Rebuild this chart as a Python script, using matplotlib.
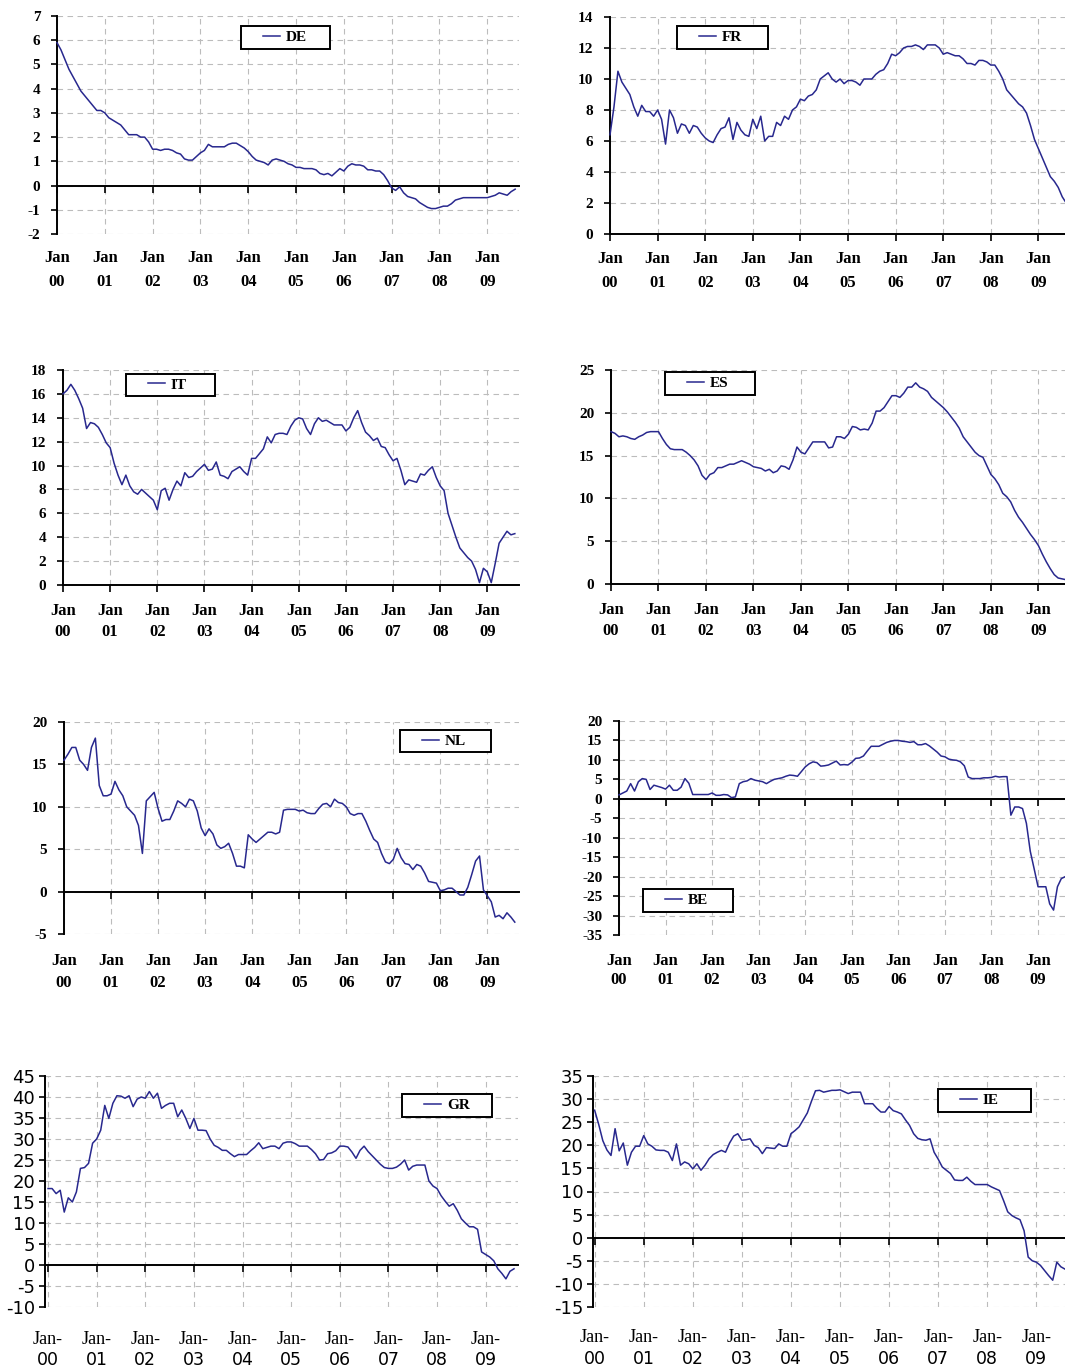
import matplotlib
matplotlib.use("Agg")
import matplotlib.pyplot as plt
from matplotlib.lines import Line2D
from matplotlib.legend_handler import HandlerLine2D
from matplotlib.font_manager import FontProperties

# ---------------------------------------------------------------- data
year_labels = ["00", "01", "02", "03", "04", "05", "06", "07", "08", "09"]
jan_months = [0, 12, 24, 36, 48, 60, 72, 84, 96, 108]

de = [5.9, 5.6, 5.2, 4.8, 4.5, 4.2, 3.9, 3.7, 3.5, 3.3, 3.1, 3.1,
      3.0, 2.8, 2.7, 2.6, 2.5, 2.3, 2.1, 2.1, 2.1, 2.0, 2.0, 1.8,
      1.5, 1.5, 1.45, 1.5, 1.5, 1.45, 1.35, 1.3, 1.1, 1.05, 1.05, 1.2,
      1.35, 1.45, 1.7, 1.6, 1.6, 1.6, 1.6, 1.7, 1.75, 1.75, 1.65, 1.55,
      1.4, 1.2, 1.05, 1.0, 0.95, 0.85, 1.05, 1.1, 1.05, 1.0, 0.9, 0.85,
      0.75, 0.75, 0.7, 0.7, 0.7, 0.65, 0.5, 0.45, 0.5, 0.4, 0.55, 0.7,
      0.6, 0.8, 0.9, 0.85, 0.85, 0.8, 0.65, 0.65, 0.6, 0.6, 0.45, 0.2,
      -0.1, -0.2, -0.05, -0.3, -0.45, -0.5, -0.55, -0.7, -0.8, -0.9, -0.95, -0.95,
      -0.9, -0.85, -0.85, -0.75, -0.6, -0.55, -0.5, -0.5, -0.5, -0.5, -0.5, -0.5,
      -0.5, -0.45, -0.4, -0.3, -0.35, -0.4, -0.25, -0.15]

fr = [6.4, 8.2, 10.5, 9.8, 9.4, 9.0, 8.2, 7.6, 8.3, 7.9, 7.9, 7.6,
      8.0, 7.4, 5.8, 8.0, 7.5, 6.5, 7.1, 7.0, 6.5, 7.0, 6.9, 6.5,
      6.2, 6.0, 5.9, 6.4, 6.8, 6.9, 7.5, 6.1, 7.2, 6.7, 6.4, 6.3,
      7.4, 6.8, 7.6, 6.0, 6.3, 6.3, 7.2, 7.0, 7.6, 7.4, 8.0, 8.2,
      8.7, 8.6, 8.9, 9.0, 9.3, 10.0, 10.2, 10.4, 10.0, 9.8, 10.0, 9.7,
      9.9, 9.9, 9.8, 9.6, 10.0, 10.0, 10.0, 10.3, 10.5, 10.6, 11.0, 11.6,
      11.5, 11.7, 12.0, 12.1, 12.1, 12.2, 12.1, 11.9, 12.2, 12.2, 12.2, 12.0,
      11.6, 11.7, 11.6, 11.5, 11.5, 11.3, 11.0, 11.0, 10.9, 11.2, 11.2, 11.1,
      10.9, 10.9, 10.5, 10.0, 9.3, 9.0, 8.7, 8.4, 8.2, 7.8, 7.0, 6.1,
      5.5, 4.9, 4.3, 3.7, 3.4, 3.0, 2.4, 2.0]

it = [16.0, 16.3, 16.8, 16.3, 15.6, 14.8, 13.1, 13.6, 13.5, 13.2, 12.6, 11.9,
      11.5, 10.2, 9.2, 8.4, 9.2, 8.3, 7.8, 7.6, 8.0, 7.7, 7.4, 7.1,
      6.3, 7.9, 8.1, 7.1, 8.0, 8.7, 8.3, 9.4, 9.0, 9.1, 9.5, 9.8,
      10.1, 9.6, 9.7, 10.3, 9.2, 9.1, 8.9, 9.5, 9.7, 9.9, 9.5, 9.2,
      10.6, 10.6, 11.0, 11.4, 12.4, 11.9, 12.6, 12.7, 12.7, 12.6, 13.3, 13.8,
      14.0, 13.9, 13.1, 12.6, 13.5, 14.0, 13.7, 13.8, 13.6, 13.4, 13.4, 13.4,
      12.9, 13.2, 14.0, 14.6, 13.6, 12.8, 12.5, 12.1, 12.3, 11.6, 11.5, 10.9,
      10.4, 10.6, 9.6, 8.4, 8.8, 8.7, 8.6, 9.3, 9.2, 9.6, 9.9, 9.0,
      8.3, 7.9, 6.0, 5.0, 4.0, 3.1, 2.7, 2.3, 2.0, 1.3, 0.2, 1.4,
      1.1, 0.2, 1.8, 3.5, 4.0, 4.5, 4.2, 4.3]

es = [17.8, 17.6, 17.2, 17.3, 17.2, 17.0, 16.9, 17.2, 17.4, 17.7, 17.8, 17.8,
      17.8, 17.0, 16.3, 15.8, 15.7, 15.7, 15.7, 15.4, 15.0, 14.5, 13.8, 12.7,
      12.2, 12.8, 13.0, 13.6, 13.6, 13.8, 14.0, 14.0, 14.2, 14.4, 14.2, 14.0,
      13.7, 13.6, 13.5, 13.2, 13.4, 13.0, 13.2, 13.8, 13.7, 13.4, 14.5, 16.0,
      15.4, 15.2, 15.9, 16.6, 16.6, 16.6, 16.6, 15.9, 16.0, 17.2, 17.2, 17.0,
      17.5, 18.4, 18.3, 18.0, 18.1, 18.0, 18.8, 20.2, 20.2, 20.6, 21.3, 22.0,
      22.0, 21.8, 22.3, 23.0, 23.0, 23.5, 23.0, 22.8, 22.5, 21.8, 21.4, 21.0,
      20.6, 20.1, 19.5, 18.9, 18.2, 17.2, 16.6, 16.0, 15.4, 15.0, 14.8, 13.8,
      12.8, 12.3, 11.6, 10.6, 10.2, 9.6, 8.6, 7.8, 7.2, 6.5, 5.8, 5.2,
      4.5, 3.5, 2.6, 1.8, 1.1, 0.7, 0.6, 0.5]

nl = [15.5, 16.2, 17.0, 17.0, 15.5, 15.0, 14.3, 17.0, 18.1, 12.5, 11.3, 11.3,
      11.5, 13.0, 12.0, 11.3, 10.0, 9.5, 9.0, 7.8, 4.5, 10.7, 11.2, 11.7,
      9.8, 8.3, 8.5, 8.5, 9.5, 10.7, 10.4, 10.0, 10.9, 10.7, 9.5, 7.5,
      6.6, 7.4, 6.8, 5.5, 5.1, 5.3, 5.7, 4.5, 3.0, 3.0, 2.8, 6.7,
      6.2, 5.8, 6.2, 6.6, 7.0, 7.0, 6.8, 7.0, 9.6, 9.7, 9.7, 9.7,
      9.5, 9.6, 9.3, 9.2, 9.2, 9.8, 10.3, 10.4, 10.0, 10.9, 10.5, 10.4,
      10.0, 9.2, 9.0, 9.2, 9.2, 8.3, 7.2, 6.2, 5.8, 4.5, 3.5, 3.3,
      3.8, 5.1, 4.0, 3.3, 3.2, 2.6, 3.2, 3.0, 2.2, 1.2, 1.1, 1.0,
      0.1, 0.2, 0.4, 0.4, 0.0, -0.4, -0.4, 0.5, 2.0, 3.6, 4.2, 0.2,
      -0.5, -1.2, -3.0, -2.8, -3.2, -2.5, -3.0, -3.6]

be = [1.0, 1.5, 2.0, 3.9, 2.0, 4.4, 5.2, 5.0, 2.4, 3.5, 3.2, 2.9,
      2.5, 3.5, 2.2, 2.2, 3.0, 5.2, 4.0, 1.1, 1.1, 1.1, 1.1, 1.1,
      1.5, 0.9, 0.9, 1.1, 1.0, 0.3, 0.5, 3.9, 4.4, 4.6, 5.2, 4.8,
      4.6, 4.4, 3.9, 4.5, 5.0, 5.2, 5.4, 5.8, 6.1, 6.0, 5.8, 7.0,
      8.2, 9.0, 9.5, 9.3, 8.4, 8.5, 8.7, 9.2, 9.7, 8.7, 8.8, 8.7,
      9.4, 10.4, 10.5, 11.0, 12.3, 13.5, 13.5, 13.5, 14.0, 14.5, 14.8, 15.0,
      15.0, 14.8, 14.7, 14.5, 14.7, 13.9, 13.9, 14.2, 13.6, 12.8, 12.0, 11.0,
      10.8, 10.2, 10.0, 9.9, 9.5, 8.5, 5.6, 5.2, 5.2, 5.2, 5.4, 5.4,
      5.5, 5.8, 5.6, 5.7, 5.7, -4.2, -2.1, -2.1, -2.5, -6.3, -13.5, -18.0,
      -22.6, -22.6, -22.6, -27.0, -28.6, -22.6, -20.5, -20.0]

gr = [18.2, 18.2, 17.0, 17.8, 12.6, 16.0, 15.0, 17.4, 23.0, 23.2, 24.2, 29.0,
      30.0, 32.1, 38.0, 34.9, 38.5, 40.3, 40.2, 39.7, 40.3, 37.7, 39.5, 40.0,
      39.7, 41.3, 39.7, 40.9, 37.3, 38.0, 38.5, 38.5, 35.3, 36.9, 34.9, 32.5,
      34.9, 32.1, 32.1, 32.0, 30.0, 28.5, 28.0, 27.3, 27.3, 26.5, 25.8, 26.3,
      26.3, 26.3, 27.2, 28.0, 29.1, 27.7, 28.0, 28.3, 28.3, 27.7, 29.0, 29.3,
      29.3, 28.9, 28.3, 28.3, 28.3, 27.5, 26.5, 25.0, 25.1, 26.5, 26.7, 27.2,
      28.3, 28.3, 28.1, 26.9, 25.4, 27.3, 28.3, 27.0, 26.0, 25.0, 24.0, 23.2,
      23.0, 23.0, 23.3, 24.0, 25.0, 22.6, 23.5, 23.8, 23.8, 23.8, 20.0, 18.8,
      18.2, 16.5, 15.2, 14.0, 14.6, 13.0, 11.0, 10.0, 9.1, 9.1, 8.5, 3.1,
      2.5, 1.9, 1.0, -0.9, -2.0, -3.3, -1.5, -0.9]

ie = [27.6, 24.5, 21.0, 19.0, 17.8, 23.6, 18.8, 20.5, 15.7, 18.5, 19.8, 19.8,
      22.1, 20.3, 19.8, 19.0, 18.9, 18.9, 18.5, 16.7, 20.3, 15.7, 16.4, 16.0,
      14.9, 16.0, 14.6, 15.7, 17.1, 18.0, 18.5, 18.9, 18.5, 20.5, 22.0, 22.5,
      21.1, 21.2, 21.4, 20.0, 19.5, 18.2, 19.5, 19.4, 19.3, 20.3, 19.8, 19.8,
      22.5, 23.2, 24.0, 25.5, 27.0, 29.5, 31.8, 31.9, 31.5, 31.7, 31.9, 31.9,
      32.0, 31.6, 31.2, 31.5, 31.5, 31.5, 29.0, 29.0, 29.0, 28.0, 27.2, 27.2,
      28.4, 27.5, 27.2, 26.8, 25.5, 24.3, 22.5, 21.5, 21.2, 21.1, 21.4, 18.5,
      17.0, 15.3, 14.6, 13.9, 12.5, 12.4, 12.4, 13.1, 12.2, 11.5, 11.5, 11.5,
      11.5, 11.0, 10.6, 10.2, 8.0, 5.6, 4.8, 4.3, 3.9, 1.5, -4.2, -5.0,
      -5.3, -6.0, -7.1, -8.2, -9.2, -5.3, -6.3, -6.8]

# ---------------------------------------------------------------- layout
W, H = 1065, 1370
NAVY = "#28288e"
GRID = "#bcbcbc"

tick_serif = FontProperties(family="Liberation Serif", weight="bold", size=11)
xlab_serif = FontProperties(family="Liberation Serif", weight="bold", size=12)
legend_font = FontProperties(family="Liberation Serif", weight="bold", size=11)
tick_sans = FontProperties(family="DejaVu Sans", size=13)
xlab_jan_bottom = FontProperties(family="Liberation Serif", size=13)
xlab_yr_bottom = FontProperties(family="DejaVu Sans", size=12.5)

# name, values, y ticks, (left px, top px, bottom px, px per month, x start),
# legend box (x0, y0, x1, y1) px, bottom-row style flag, label offsets px
panels = [
    ("DE", de, list(range(-2, 8, 1)), (57, 16, 234, 3.984, 0.0), (241, 24, 330, 51), False, (24, 48)),
    ("FR", fr, list(range(0, 15, 2)), (610, 17, 234, 3.967, 0.0), (677, 24, 768, 51), False, (25, 49)),
    ("IT", it, list(range(0, 19, 2)), (63, 370, 585, 3.929, 0.0), (126, 372, 215, 398), False, (26, 47)),
    ("ES", es, list(range(0, 26, 5)), (611, 370, 584, 3.957, 0.0), (665, 370, 755, 397), False, (26, 47)),
    ("NL", nl, list(range(-5, 21, 5)), (64, 722, 934, 3.92, 0.0), (400, 728, 491, 754), False, (27, 49)),
    ("BE", be, list(range(-35, 21, 5)), (619, 721, 935, 3.88, 0.0), (643, 887, 733, 914), False, (26, 45)),
    ("GR", gr, list(range(-10, 46, 5)), (45, 1076, 1307, 4.052, -0.75), (402, 1092, 492, 1119), True, (32, 53)),
    ("IE", ie, list(range(-15, 36, 5)), (593, 1076, 1307, 4.09, -0.4), (938, 1087, 1031, 1114), True, (31, 52)),
]
X_END = 116.0

fig = plt.figure(figsize=(W / 100, H / 100), dpi=100)
fig.patch.set_facecolor("white")

for name, vals, yt, geo, lbox, bottom_style, offs in panels:
    left, top, bottom, ppm, x0 = geo
    width = (X_END - x0) * ppm
    ax = fig.add_axes([left / W, 1 - bottom / H, width / W, (bottom - top) / H])
    ax.set_facecolor("none")
    ax.set_xlim(x0, X_END)
    ax.set_ylim(yt[0], yt[-1])

    # grid
    ax.set_xticks(jan_months)
    ax.set_yticks(yt)
    ax.grid(True, color=GRID, lw=0.8, ls=(0, (5, 4)))
    ax.set_axisbelow(True)

    # spines: y axis on the left, category axis through zero
    for s in ("top", "right"):
        ax.spines[s].set_visible(False)
    ax.spines["left"].set_linewidth(1.4)
    ax.spines["left"].set_color("black")
    ax.spines["bottom"].set_position(("data", 0))
    ax.spines["bottom"].set_linewidth(1.4)
    ax.spines["bottom"].set_color("black")
    ax.spines["bottom"].set_clip_on(False)

    ax.tick_params(axis="x", direction="out", length=5, width=1.2,
                   labelbottom=False, color="black")
    ax.tick_params(axis="y", direction="out", length=4, width=1.2,
                   pad=3 if bottom_style else 8, color="black")
    ax.set_yticklabels([str(v) for v in yt],
                       fontproperties=tick_sans if bottom_style else tick_serif)

    # category labels below the plot area
    for m, yl in zip(jan_months, year_labels):
        if bottom_style:
            top_txt, top_fp, bot_fp = "Jan-", xlab_jan_bottom, xlab_yr_bottom
        else:
            top_txt, top_fp, bot_fp = "Jan", xlab_serif, xlab_serif
        ax.annotate(top_txt, xy=(m, 0), xycoords=("data", "axes fraction"),
                    xytext=(0, -offs[0] * 0.72), textcoords="offset points",
                    ha="center", va="center", fontproperties=top_fp)
        ax.annotate(yl, xy=(m, 0), xycoords=("data", "axes fraction"),
                    xytext=(0, -offs[1] * 0.72), textcoords="offset points",
                    ha="center", va="center", fontproperties=bot_fp)

    line, = ax.plot(range(len(vals)), vals, color=NAVY, lw=1.1, label=name,
                    clip_on=False, zorder=3)

    bx0, by0, bx1, by1 = lbox
    leg = ax.legend(handles=[line], loc="center",
                    bbox_to_anchor=(bx0 / W, 1 - by1 / H, (bx1 - bx0) / W, (by1 - by0) / H),
                    bbox_transform=fig.transFigure, mode="expand", borderaxespad=0,
                    borderpad=0.28, handlelength=2.3, handletextpad=0.35,
                    handler_map={Line2D: HandlerLine2D(xpad=1.15)},
                    frameon=True, fancybox=False, framealpha=1, edgecolor="black",
                    prop=legend_font)
    leg.get_frame().set_linewidth(1.4)

fig.savefig("out.png", dpi=100, facecolor="white")
